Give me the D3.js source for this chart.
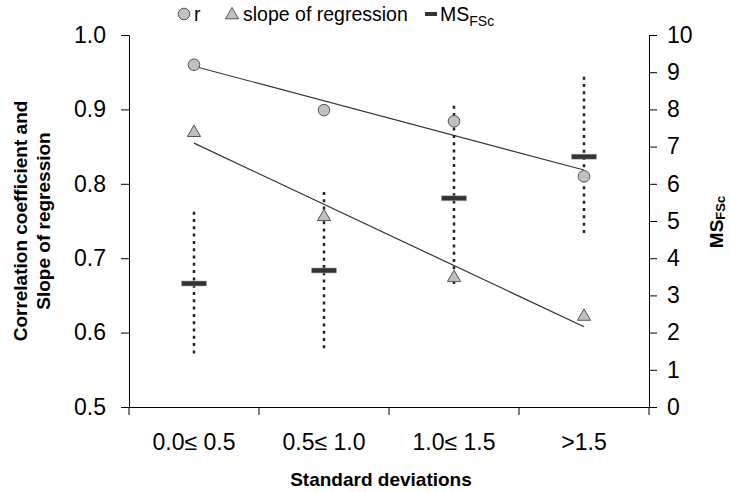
<!DOCTYPE html>
<html>
<head>
<meta charset="utf-8">
<script src="https://cdn.jsdelivr.net/npm/d3@7"></script>
<style>
  body { margin: 0; background: #fff; }
  svg { display: block; font-family: "Liberation Sans", Arial, sans-serif; }
</style>
</head>
<body>
<div class="viz"></div>
<script>
const width = 730;
const height = 492;

// data
const categories = ["0.0\u2264 0.5", "0.5\u2264 1.0", "1.0\u2264 1.5", ">1.5"];
const rValues = [0.96, 0.899, 0.884, 0.81];
const slopeValues = [0.87, 0.757, 0.675, 0.623];
const msValues = [3.32, 3.67, 5.61, 6.73];
const msLow = [1.33, 1.49, 3.24, 4.58];
const msHigh = [5.25, 5.78, 8.10, 8.88];
const leftTicks = [0.5, 0.6, 0.7, 0.8, 0.9, 1.0];
const rightTicks = [0, 1, 2, 3, 4, 5, 6, 7, 8, 9, 10];

const svg = d3.select(".viz")
    .append("svg")
    .attr("width", width)
    .attr("height", height);

const x = d3.scaleBand().domain(categories).range([129, 649]);
const yL = d3.scaleLinear().domain([0.5, 1.0]).range([407, 35]);
const yR = d3.scaleLinear().domain([0, 10]).range([407, 35]);
const cx = d => x(d) + x.bandwidth() / 2;

// axes
const axisL = svg.append("g")
    .attr("transform", "translate(129,0)")
    .call(d3.axisLeft(yL).tickValues(leftTicks).tickFormat(d3.format(".1f")).tickSize(8).tickPadding(15));
const axisR = svg.append("g")
    .attr("transform", "translate(649,0)")
    .call(d3.axisRight(yR).tickValues(rightTicks).tickSize(8).tickPadding(10));
const axisB = svg.append("g")
    .attr("transform", "translate(0,407)")
    .call(d3.axisBottom(x).tickSize(0).tickPadding(27));

[axisL, axisR, axisB].forEach(g => {
    g.select(".domain").attr("stroke", "#000").attr("stroke-width", 1);
    g.selectAll(".tick line").attr("stroke", "#000");
    g.selectAll("text").attr("fill", "#000").style("font-size", "23px")
        .style("font-family", "'Liberation Sans', Arial, sans-serif");
});

// category separator ticks on the x axis
svg.append("g").selectAll("line")
    .data(categories.concat([null]))
    .enter().append("line")
    .attr("x1", (d, i) => 129 + i * x.bandwidth())
    .attr("x2", (d, i) => 129 + i * x.bandwidth())
    .attr("y1", 407).attr("y2", 415)
    .attr("stroke", "#000");

// least squares trend lines
function fit(vals) {
    const n = vals.length;
    const xs = vals.map((v, i) => i);
    const mx = d3.mean(xs), my = d3.mean(vals);
    const b = d3.sum(xs, (xi, i) => (xi - mx) * (vals[i] - my)) / d3.sum(xs, xi => (xi - mx) ** 2);
    return [my - b * mx, my + b * (n - 1 - mx)];
}
[rValues, slopeValues].forEach(vals => {
    const f = fit(vals);
    svg.append("line")
        .attr("x1", cx(categories[0])).attr("y1", yL(f[0]))
        .attr("x2", cx(categories[categories.length - 1])).attr("y2", yL(f[1]))
        .attr("stroke", "#333").attr("stroke-width", 1.2);
});

// MS error range (dotted)
svg.append("g").selectAll("line")
    .data(categories)
    .enter().append("line")
    .attr("x1", d => cx(d)).attr("x2", d => cx(d))
    .attr("y1", (d, i) => yR(msHigh[i]))
    .attr("y2", (d, i) => yR(msLow[i]))
    .attr("stroke", "#222").attr("stroke-width", 2.5)
    .attr("stroke-dasharray", "3,4.3");

// MS bars
svg.append("g").selectAll("rect")
    .data(categories)
    .enter().append("rect")
    .attr("x", d => cx(d) - 12.5)
    .attr("y", (d, i) => yR(msValues[i]) - 2.5)
    .attr("width", 25).attr("height", 5)
    .attr("fill", "#333").attr("stroke", "#aaa").attr("stroke-width", 0.6);

const tri = d3.symbol().type(d3.symbolTriangle).size(75);

// r circles
svg.append("g").selectAll("circle")
    .data(categories)
    .enter().append("circle")
    .attr("cx", d => cx(d))
    .attr("cy", (d, i) => yL(rValues[i]))
    .attr("r", 5.8)
    .attr("fill", "#c0c0c0").attr("stroke", "#555").attr("stroke-width", 1);

// slope triangles
svg.append("g").selectAll("path")
    .data(categories)
    .enter().append("path")
    .attr("d", tri)
    .attr("transform", (d, i) => `translate(${cx(d)},${yL(slopeValues[i]) + 1})`)
    .attr("fill", "#c0c0c0").attr("stroke", "#555").attr("stroke-width", 1);

// legend
const legend = svg.append("g").style("font-size", "19.5px").attr("fill", "#000");
legend.append("circle").attr("cx", 184).attr("cy", 14).attr("r", 5.8)
    .attr("fill", "#c0c0c0").attr("stroke", "#555");
legend.append("text").attr("x", 194).attr("y", 21).text("r");
legend.append("path").attr("d", tri).attr("transform", "translate(232,15)")
    .attr("fill", "#c0c0c0").attr("stroke", "#555");
legend.append("text").attr("x", 243).attr("y", 21).text("slope of regression");
legend.append("rect").attr("x", 425).attr("y", 12).attr("width", 12).attr("height", 4).attr("fill", "#333");
const msText = legend.append("text").attr("x", 440).attr("y", 21);
msText.append("tspan").text("MS");
msText.append("tspan").attr("dy", 5).style("font-size", "14px").text("FSc");

// axis titles
svg.append("text")
    .attr("x", 381).attr("y", 486)
    .attr("text-anchor", "middle")
    .style("font-size", "19px").style("font-weight", "bold")
    .text("Standard deviations");

const leftTitle = svg.append("text")
    .attr("transform", "translate(27,221) rotate(-90)")
    .attr("text-anchor", "middle")
    .style("font-size", "19px").style("font-weight", "bold");
leftTitle.append("tspan").attr("x", 0).attr("dy", 0).text("Correlation coefficient and");
leftTitle.append("tspan").attr("x", 0).attr("dy", 23).text("Slope of regression");

const rightTitle = svg.append("text")
    .attr("transform", "translate(723,222) rotate(-90)")
    .attr("text-anchor", "middle")
    .style("font-size", "19px").style("font-weight", "bold");
rightTitle.append("tspan").text("MS");
rightTitle.append("tspan").attr("dy", 2).style("font-size", "13px").text("FSc");
</script>
</body>
</html>
